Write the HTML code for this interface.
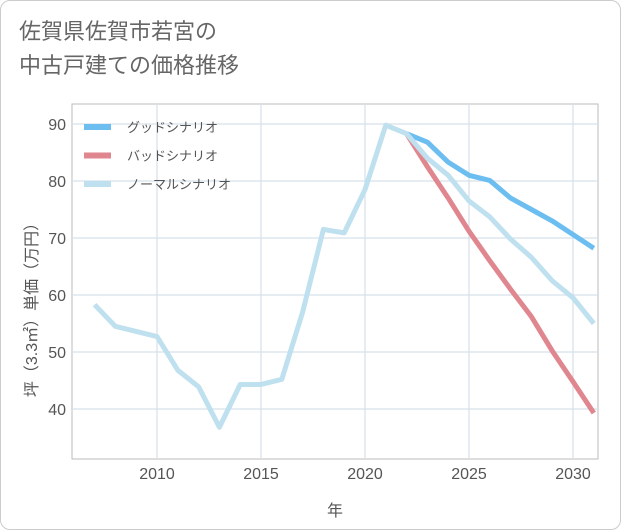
<!DOCTYPE html>
<html><head><meta charset="utf-8"><style>
body{margin:0;background:#fff;}
#card{position:absolute;left:0;top:0;width:619px;height:528px;border:1px solid #ccc;border-radius:10px;background:#fff;font-family:"Liberation Sans","Noto Sans CJK JP",sans-serif;}
#title{position:absolute;left:18px;top:14px;font-size:22px;line-height:34px;color:#666;}
svg{position:absolute;left:0;top:0;}
text{font-family:"Liberation Sans","Noto Sans CJK JP",sans-serif;}
</style></head><body>
<div id="card">
<div id="title">佐賀県佐賀市若宮の<br>中古戸建ての価格推移</div>
<svg id="chart" width="621" height="530"></svg>
</div>
<script>
const years=[2007,2008,2009,2010,2011,2012,2013,2014,2015,2016,2017,2018,2019,2020,2021,2022,2023,2024,2025,2026,2027,2028,2029,2030,2031];
const normalVals=[58.3,54.5,53.6,52.7,46.8,43.9,36.8,44.3,44.3,45.2,57,71.5,70.9,78.5,89.8,88.3,84,81,76.5,73.7,69.8,66.6,62.5,59.5,55];
const futureYears=[2022,2023,2024,2025,2026,2027,2028,2029,2030,2031];
const goodVals=[88.3,86.8,83.3,81,80.1,77,75,73,70.6,68.2];
const badVals=[88.3,82.5,77,71.2,66,61,56.2,50.2,44.8,39.3];
const xTicks=[2010,2015,2020,2025,2030];
const yTicks=[40,50,60,70,80,90];
const L=71,R=597,T=103,B=458;
const x=v=>156+(v-2010)*20.8;
const y=v=>123+(90-v)*5.7;
const svg=document.getElementById('chart');
const NS='http://www.w3.org/2000/svg';
function mk(t,a){const e=document.createElementNS(NS,t);for(const k in a)e.setAttribute(k,a[k]);svg.appendChild(e);return e;}
const bg=mk('rect',{x:L,y:T,width:R-L,height:B-T,fill:'#fff',stroke:'#bbb'});


yTicks.forEach(v=>{
 const g=mk('line',{x1:L,x2:R,y1:y(v),y2:y(v),stroke:'#d5e0ea','stroke-width':1.2});
 
 
 const t=mk('text',{x:L-6,y:y(v)+6,'text-anchor':'end','font-size':16,fill:'#555'});t.textContent=v;
 
 
});
xTicks.forEach(v=>{
 const g=mk('line',{x1:x(v),x2:x(v),y1:T,y2:B,stroke:'#d5e0ea','stroke-width':1.2});
 
 
 const t=mk('text',{x:x(v),y:B+20,'text-anchor':'middle','font-size':16,fill:'#555'});t.textContent=v;
 
 
});
function line(xs,vs,c,name){
 const p=mk('polyline',{points:xs.map((v,i)=>x(v)+','+y(vs[i])).join(' '),fill:'none',stroke:c,'stroke-width':5,'stroke-linejoin':'round','clip-path':'url(#clip)'});
 
 
}
const defs=mk('defs',{});const cp=document.createElementNS(NS,'clipPath');cp.setAttribute('id','clip');
const cr=document.createElementNS(NS,'rect');cr.setAttribute('x',L);cr.setAttribute('y',T);cr.setAttribute('width',R-L);cr.setAttribute('height',B-T);cp.appendChild(cr);defs.appendChild(cp);
line(futureYears,badVals,'#e0868f','bad-scenario-line');
line(futureYears,goodVals,'#6dbef0','good-scenario-line');
line(years,normalVals,'#bfe0ee','normal-scenario-line');
const leg=[['グッドシナリオ','#6dbef0'],['バッドシナリオ','#e0868f'],['ノーマルシナリオ','#bfe0ee']];
leg.forEach((d,i)=>{
 const yy=126+i*28.5;
 const s=mk('line',{x1:83,x2:110,y1:yy,y2:yy,stroke:d[1],'stroke-width':6});
 
 
 const t=mk('text',{x:126,y:yy+5,'font-size':13,fill:'#555'});t.textContent=d[0];
 
 
});
const xt=mk('text',{x:334,y:515,'text-anchor':'middle','font-size':16,fill:'#555'});xt.textContent='年';


const yt=mk('text',{x:0,y:0,'text-anchor':'middle','font-size':16,fill:'#555',transform:'translate(36,305) rotate(-90)'});yt.textContent='坪（3.3㎡）単価（万円）';


</script>
</body></html>
